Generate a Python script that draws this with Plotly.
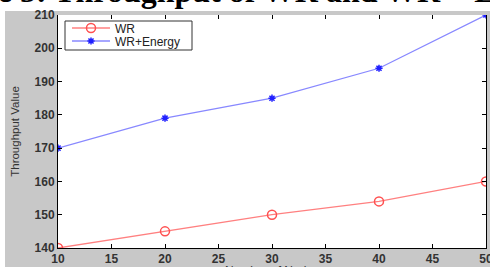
import plotly.graph_objects as go

nodes = [10, 20, 30, 40, 50]
wr = [140, 145, 150, 154, 160]
wr_energy = [170, 179, 185, 194, 210]
x_ticks = [10, 15, 20, 25, 30, 35, 40, 45, 50]
y_ticks = [140, 150, 160, 170, 180, 190, 200, 210]

W, H = 490, 267
L, R, T, B = 58, 4, 15, 19
pw, ph = W - L - R, H - T - B
GRAY = "#c8c8c8"

def px(xp):
    return (xp - L) / pw

def py(yp):
    return (H - B - yp) / ph

fig = go.Figure()
fig.add_trace(go.Scatter(
    x=nodes, y=wr, name="WR", mode="lines+markers", legend="legend",
    line=dict(color="#ff8080", width=1.3),
    marker=dict(symbol="circle-open", size=9, color="#ff5050", line=dict(width=1.5)),
))
fig.add_trace(go.Scatter(
    x=nodes, y=wr_energy, name="WR+Energy", mode="lines+markers", legend="legend2",
    line=dict(color="#8888ff", width=1.3),
    marker=dict(symbol="asterisk-open", size=6, color="#2020ff", line=dict(width=1.5, color="#2020ff")),
))

tickfont = dict(family="Liberation Sans, Arial", size=12, color="#333333", weight="bold")
fig.update_xaxes(
    range=[10, 50], tickvals=x_ticks, ticks="inside", ticklen=4, mirror="ticks",
    showline=True, linecolor="black", linewidth=1, showgrid=False, zeroline=False,
    tickfont=tickfont, tickcolor="black", ticklabeloverflow="allow",
    automargin=False,
)
fig.update_yaxes(
    range=[140, 210], tickvals=y_ticks, ticks="inside", ticklen=4, mirror="ticks",
    showline=True, linecolor="black", linewidth=1, showgrid=False, zeroline=False,
    tickfont=tickfont, tickcolor="black",
    title=dict(text="Throughput Value", font=dict(family="Liberation Sans, Arial", size=11.5, color="#333333"), standoff=12),
    automargin=False,
)

legfont = dict(family="Liberation Sans, Arial", size=12, color="#222222")
fig.update_layout(
    width=W, height=H,
    margin=dict(l=L, r=R, t=T, b=B, pad=0),
    paper_bgcolor=GRAY, plot_bgcolor="white",
    showlegend=True,
    legend=dict(x=px(67), y=py(28), xanchor="left", yanchor="middle",
                bgcolor="rgba(0,0,0,0)", borderwidth=0, font=legfont, itemwidth=38),
    legend2=dict(x=px(67), y=py(41), xanchor="left", yanchor="middle",
                 bgcolor="rgba(0,0,0,0)", borderwidth=0, font=legfont, itemwidth=38),
    shapes=[
        dict(type="rect", xref="paper", yref="paper", x0=px(-5), x1=px(W + 5), y0=py(11), y1=py(-5),
             fillcolor="white", line=dict(width=0), layer="below"),
        dict(type="rect", xref="paper", yref="paper", x0=px(-5), x1=px(5), y0=py(H + 5), y1=py(-5),
             fillcolor="white", line=dict(width=0), layer="below"),
        dict(type="rect", xref="paper", yref="paper", x0=px(65), x1=px(192), y0=py(50), y1=py(21),
             fillcolor="white", line=dict(width=1, color="#333333"), layer="above"),
    ],
    annotations=[
        dict(text="Figure 5: Throughput of WR and WR + Energy", xref="paper", yref="paper",
             x=px(-80), y=py(11.5), xanchor="left", yanchor="bottom", showarrow=False,
             font=dict(family="Liberation Serif, Times New Roman", size=32, color="black", weight="bold")),
        dict(text=" ", xref="paper", yref="paper", x=px(55), y=py(11), xanchor="left", yanchor="top",
             width=W, height=3.5, bgcolor=GRAY, borderpad=0, borderwidth=0, showarrow=False,
             font=dict(size=2)),
        dict(text="Number of Nodes", xref="paper", yref="paper", x=px(272), y=py(262),
             xanchor="center", yanchor="top", showarrow=False,
             font=dict(family="Liberation Sans, Arial", size=12, color="#333333")),
    ],
)

fig.write_html("out.html", post_script="document.body.style.margin='0';",
               config={"displayModeBar": False})
